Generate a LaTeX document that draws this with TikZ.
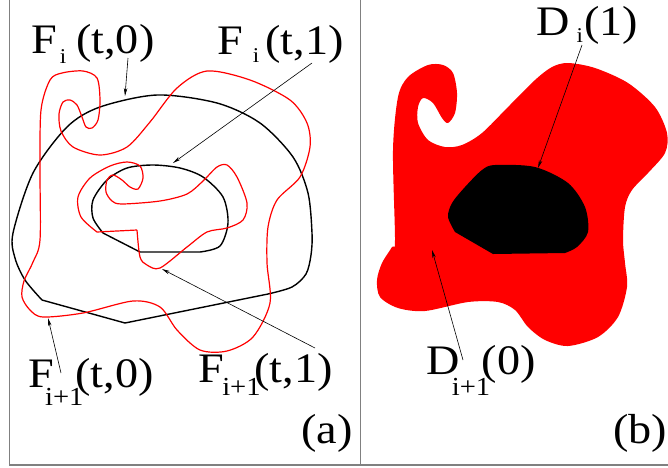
\documentclass[tikz,border=0pt]{standalone}
\usepackage{fontspec}
\setmainfont{Liberation Serif}
\usepackage{tikz}
\usetikzlibrary{arrows.meta}
\definecolor{rim}{HTML}{808080}
\newcommand{\bigfig}{\fontsize{42}{46}\selectfont}
\newcommand{\subi}[2]{\raisebox{-#1pt}{\fontsize{21}{22}\selectfont #2}}
\newcommand{\subii}[2]{\raisebox{-#1pt}{\fontsize{26}{28}\selectfont #2}}
\tikzset{
  >={Stealth[length=8pt, width=3.5pt]},
  rim/.style={draw=rim, line width=1.6pt},
  blk/.style={draw=black, line width=1.4pt, line join=round},
  rd/.style={draw=red, line width=1.2pt, line join=round},
  ptr/.style={->, line width=0.6pt},
  lbl/.style={anchor=base west, inner sep=0pt, font=\bigfig, xscale=1.1, transform shape},
}

\begin{document}
\begin{tikzpicture}[x=1pt, y=-1pt]
  \useasboundingbox (0,0) rectangle (668,467);

  % frame
  \draw[rim] (9.5,0) -- (9.5,465) -- (668,465);
  \draw[rim] (360.5,0) -- (360.5,465);

  % (a): black curves
  \draw[blk] (125,323) -- (268,294)
    -- plot[smooth] coordinates {(268,294) (292,287) (306,274) (311,255) (312,233)
      (308,193) (293,157) (260,123) (217,103) (157,95) (100,107) (67,127)
      (33,173) (13,233) (15,258) (25,280) (42,300)} -- cycle;
  \draw[blk] (140,252) -- (103,233)
    -- plot[smooth] coordinates {(103,233) (93,218) (93,200) (107,180) (127,168)
      (153,165) (180,168) (203,177) (223,197) (228,223) (220,246) (200,252)} -- cycle;

  % (a): red curves
  \draw[rd] plot[smooth cycle] coordinates {(40,240) (40,170) (41,110) (50,80)
    (62,73) (83,71) (97,78) (100,100) (98,120) (92,128) (86,127) (82,117) (77,105)
    (70,100) (63,102) (59,114) (61,131) (73,147) (100,155) (127,147) (150,122)
    (177,88) (207,71) (250,80) (290,100) (307,123) (310,147) (300,177) (277,200)
    (268,227) (267,263) (270,303) (253,337) (227,351) (200,350) (177,330)
    (160,307) (133,301) (83,313) (43,317) (30,310) (22,297) (24,281) (33,262)};
  \draw[rd] (137,230) -- (97,232)
    -- plot[smooth] coordinates {(97,232) (81,217) (78,197) (90,178) (110,166)
      (127,162) (140,166) (143,178) (138,189) (130,187) (122,180) (113,175)
      (107,180) (106,192) (112,201) (122,204) (160,201) (187,194) (203,181)
      (217,167) (227,165) (237,177) (247,203) (243,220) (227,228) (207,232)
      (187,247) (160,268) (147,265) (140,257) (137,230)};

  % (b): filled regions
  \fill[red] plot[smooth cycle] coordinates {(395,240) (393,150) (398,97)
    (408,77) (428,65) (443,65) (453,73) (457,93) (455,113) (448,123) (442,118)
    (433,103) (423,98) (418,107) (418,123) (428,140) (445,147) (462,145)
    (482,133) (508,107) (535,80) (552,67) (568,63) (595,68) (628,83) (655,107)
    (667,133) (665,153) (648,173) (632,190) (625,207) (623,240) (625,263)
    (627,287) (618,317) (598,337) (568,346) (545,340) (528,327) (515,310)
    (498,302) (468,302) (425,311) (398,308) (380,297) (377,280) (382,263)
    (392,247)};
  \fill[black] (493,254) -- (455,232)
    -- plot[smooth] coordinates {(455,232) (448,217) (452,203) (465,187)
      (482,170) (495,165) (535,167) (568,183) (585,207) (588,232) (577,247)
      (565,253)} -- cycle;

  % labels
  \node[lbl] (fi0) at (31,53) {F\kern2.7pt\subi{10}{i}\kern9pt(t,0)};
  \node[lbl] (fi1) at (217,54) {F\kern9pt\subi{8}{i}\kern5.5pt(t,1)};
  \node[lbl] (fj0) at (28,387) {F\kern-8pt\subii{18}{i+1}\kern-7.3pt(t,0)};
  \node[lbl] (fj1) at (198,382) {F\kern-1.5pt\subii{13}{i+1}\kern-5.5pt(t,1)};
  \node[lbl] (capa) at (301,443) {(a)};
  \node[lbl] (di1) at (536,35) {D\kern6.4pt\subi{7}{i}\kern1.3pt(1)};
  \node[lbl] (dj0) at (426,374) {D\kern-7pt\subii{21}{i+1}\kern-7.7pt(0)};
  \node[lbl] (capb) at (613,443) {(b)};

  % pointers
  \coordinate (fi0s) at (128,58);  \coordinate (fi0t) at (125,96);
  \coordinate (fi1s) at (312,63);  \coordinate (fi1t) at (173,163);
  \coordinate (fj0s) at (61,373);  \coordinate (fj0t) at (48,318);
  \coordinate (fj1s) at (315,348); \coordinate (fj1t) at (162,269);
  \coordinate (di1s) at (582,45);  \coordinate (di1t) at (538,168);
  \coordinate (dj0s) at (463,360); \coordinate (dj0t) at (432,250);
  \draw[ptr] (fi0s) -- (fi0t);
  \draw[ptr] (fi1s) -- (fi1t);
  \draw[ptr] (fj0s) -- (fj0t);
  \draw[ptr] (fj1s) -- (fj1t);
  \draw[ptr] (di1s) -- (di1t);
  \draw[ptr] (dj0s) -- (dj0t);
\end{tikzpicture}
\end{document}
